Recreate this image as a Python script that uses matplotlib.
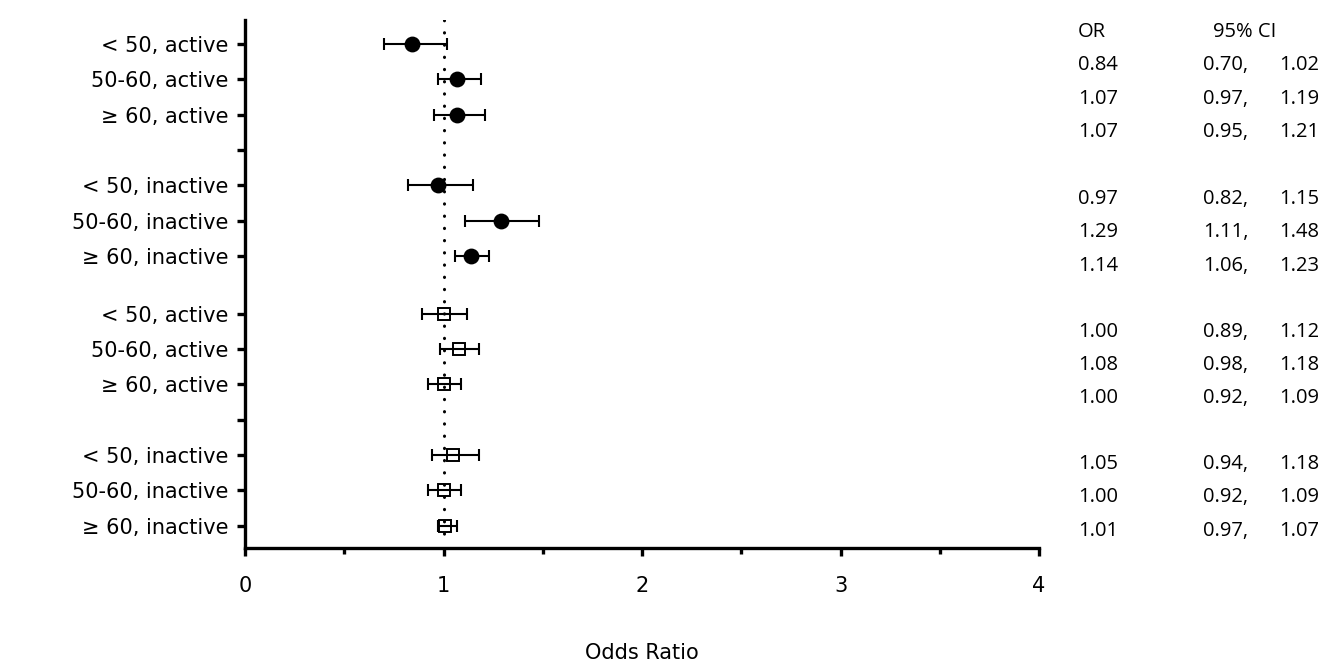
import matplotlib
matplotlib.use("Agg")
import matplotlib.pyplot as plt
import numpy as np

plt.rcParams['font.family'] = ['DejaVu Sans']

labels = ["< 50, active", "50-60, active", "\u2265 60, active", "",
          "< 50, inactive", "50-60, inactive", "\u2265 60, inactive",
          "< 50, active", "50-60, active", "\u2265 60, active", "",
          "< 50, inactive", "50-60, inactive", "\u2265 60, inactive"]

or_top = [0.84, 1.07, 1.07, 0.97, 1.29, 1.14]
lo_top = [0.70, 0.97, 0.95, 0.82, 1.11, 1.06]
hi_top = [1.02, 1.19, 1.21, 1.15, 1.48, 1.23]

or_bot = [1.00, 1.08, 1.00, 1.05, 1.00, 1.01]
lo_bot = [0.89, 0.98, 0.92, 0.94, 0.92, 0.97]
hi_bot = [1.12, 1.18, 1.09, 1.18, 1.09, 1.07]

W, H = 1329, 665
fig = plt.figure(figsize=(W / 100, H / 100), dpi=100)
ax = fig.add_axes([245 / W, 1 - 548 / H, (1039 - 245) / W, (548 - 20) / H])

top_pos = np.array([0, 1, 2, 4, 5, 6], dtype=float)
bot_pos = np.array([0, 1, 2, 4, 5, 6], dtype=float) + 7.64
tick_pos = list(np.arange(7)) + list(np.arange(7) + 7.64)

ax.set_xlim(0, 4)
ax.set_ylim(14.27, -0.68)

ax.plot([1, 1], [-0.68, 14.0], color='black', lw=2.2,
        linestyle=(0, (0.1, 3.9)), dash_capstyle='round', zorder=3)

def draw(vals, lo, hi, pos, marker, fc, ms):
    v = np.array(vals); l = np.array(lo); h = np.array(hi)
    ax.errorbar(v, pos, xerr=[v - l, h - v], fmt='none', ecolor='black',
                elinewidth=1.5, capsize=4.5, capthick=1.5, zorder=4)
    ax.plot(v, pos, linestyle='none', marker=marker, markersize=ms,
            markerfacecolor=fc, markeredgecolor='black', markeredgewidth=1.4, zorder=5)

draw(or_top, lo_top, hi_top, top_pos, 'o', 'black', 10)
draw(or_bot, lo_bot, hi_bot, bot_pos, 's', 'none', 9)

for s in ['top', 'right']:
    ax.spines[s].set_visible(False)
for s in ['left', 'bottom']:
    ax.spines[s].set_linewidth(2.4)

ax.set_yticks(tick_pos)
ax.set_yticklabels(labels, fontsize=15)
ax.tick_params(axis='y', length=6, width=2.4, pad=6)
ax.set_xticks([0, 1, 2, 3, 4])
ax.set_xticks([0.5, 1.5, 2.5, 3.5], minor=True)
ax.tick_params(axis='x', which='major', length=6, width=2.4, labelsize=15, pad=14)
ax.tick_params(axis='x', which='minor', length=4, width=2.4)
ax.set_xlabel("Odds Ratio", fontsize=15)
ax.xaxis.set_label_coords(0.5, (548 - 653) / 528)
ax.xaxis.label.set_va('center')

# Right-hand table
all_or = or_top + or_bot
all_lo = lo_top + lo_bot
all_hi = hi_top + hi_bot
row_y = [65, 99, 132, 199, 232, 266, 332, 365, 398, 464, 497, 531]
tf = dict(fontsize=14.5, family=['Open Sans', 'DejaVu Sans'], va='center')
fig.text(1078 / W, 1 - 32 / H, "OR", ha='left', **tf)
fig.text(1213 / W, 1 - 32 / H, "95% CI", ha='left', **tf)
for y, o, l, h in zip(row_y, all_or, all_lo, all_hi):
    fig.text(1078 / W, 1 - y / H, f"{o:.2f}", ha='left', **tf)
    fig.text(1203 / W, 1 - y / H, f"{l:.2f},", ha='left', **tf)
    fig.text(1279 / W, 1 - y / H, f"{h:.2f}", ha='left', **tf)

fig.savefig("out.png", dpi=100)
